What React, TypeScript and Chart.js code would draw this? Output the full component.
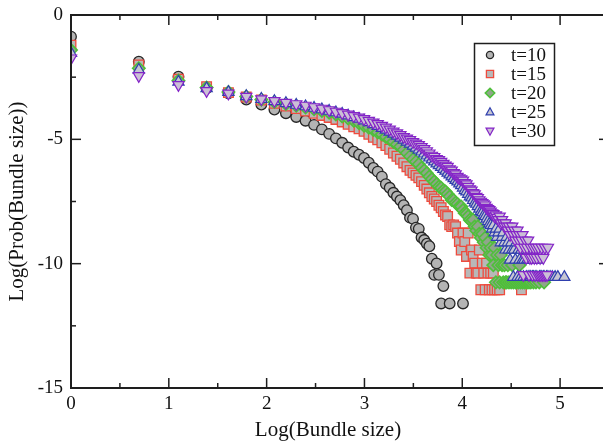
import React, { useEffect, useRef } from 'react';
import { Chart, registerables } from 'chart.js';

Chart.register(...registerables);

const FONT = '"Liberation Serif", "Times New Roman", serif';

const xTickValues = [0, 1, 2, 3, 4, 5];
const xMinorTicks = [0.5, 1.5, 2.5, 3.5, 4.5];
const yTickValues = [0, -5, -10, -15];
const yMinorTicks = [-2.5, -7.5, -12.5];
const seriesLabels = ['t=10', 't=15', 't=20', 't=25', 't=30'];
const xTitle = 'Log(Bundle size)';
const yTitle = 'Log(Prob(Bundle size))';

// Log(Prob(Bundle size)) for bundle sizes 1, 2, 3, ... (null = no bundle of that size)
const probT10 = [
  -0.87, -1.88, -2.48, -2.95, -3.15, -3.4, -3.6, -3.8, -3.95, -4.1,
  -4.25, -4.42, -4.6, -4.78, -4.96, -5.14, -5.33, -5.5, -5.62, -5.75,
  -5.94, -6.15, -6.3, -6.5, -6.8, -6.95, -7.15, -7.3, -7.45, -7.65,
  -7.85, -8.15, -8.2, -8.55, -8.6, -8.95, -9.05, -9.2, -9.3, -9.8,
  -10.45, -9.99, -10.45, -11.6, -10.9, null, null, -11.6, null, null,
  null, null, null, null, -11.6,
];

const probT15 = [
  -1.21, -2.01, -2.58, -2.88, -3.12, -3.3, -3.42, -3.55, -3.66, -3.76,
  -3.86, -3.95, -4.04, -4.12, -4.2, -4.3, -4.4, -4.5, -4.58, -4.68,
  -4.8, -4.92, -5.02, -5.14, -5.25, -5.4, -5.55, -5.68, -5.8, -5.95,
  -6.1, -6.25, -6.35, -6.45, -6.55, -6.7, -6.85, -7.0, -7.15, -7.3,
  -7.4, -7.5, -7.65, -7.75, -7.9, -8.04, -8.1, -8.44, -8.51, -8.44,
  -8.51, -8.77, -9.11, -9.45, -8.77, -9.11, -9.71, -8.77, -10.38, -9.45,
  -9.71, -9.98, -10.38, -10.38, -9.45, -11.05, -9.98, -10.38, -11.05, -9.98,
  -10.38, -11.05, -10.38, -11.05, -10.38, -11.05, null, -11.05, null, -11.05,
  null, null, null, null, null, null, null, null, null, null,
  null, null, null, null, null, null, null, null, null, -11.05,
];

const probT20 = [
  -1.41, -2.14, -2.64, -2.92, -3.1, -3.28, -3.4, -3.5, -3.58, -3.65,
  -3.72, -3.79, -3.86, -3.93, -4.0, -4.08, -4.16, -4.25, -4.35, -4.45,
  -4.53, -4.62, -4.72, -4.8, -4.9, -5.0, -5.1, -5.2, -5.29, -5.42,
  -5.55, -5.68, -5.8, -5.9, -6.0, -6.15, -6.25, -6.36, -6.5, -6.6,
  -6.7, -6.8, -6.9, -6.95, -7.05, -7.1, -7.2, -7.3, -7.44, -7.45,
  -7.55, -7.6, -7.7, -7.7, -7.85, -7.97, -8.0, -8.1, -8.24, -8.3,
  -8.24, -8.51, -8.67, -8.51, -8.8, -8.96, -8.8, -9.14, -8.96, -9.36,
  -9.14, -9.65, -9.36, -9.65, -10.06, -9.36, -10.75, -9.65, -10.06, -10.75,
  -9.65, -10.06, -10.75, -10.06, -10.75, -10.75, -10.06, -10.75, null, -10.75,
  -10.06, -10.75, null, -10.75, -10.75, null, -10.75, -10.06, -10.75, null,
  -10.75, null, -10.75, null, -10.75, -10.75, null, -10.75, null, -10.75,
  null, null, -10.75, null, null, -10.75, null, null, null, -10.75,
  null, null, null, null, null, -10.75,
];

const probT25 = [
  -1.53, -2.21, -2.69, -2.95, -3.1, -3.27, -3.38, -3.47, -3.55, -3.62,
  -3.68, -3.74, -3.8, -3.86, -3.92, -3.98, -4.05, -4.12, -4.18, -4.25,
  -4.32, -4.4, -4.47, -4.55, -4.62, -4.7, -4.78, -4.86, -4.94, -5.02,
  -5.1, -5.18, -5.26, -5.34, -5.42, -5.5, -5.58, -5.66, -5.74, -5.82,
  -5.9, -5.98, -6.05, -6.12, -6.2, -6.27, -6.35, -6.42, -6.5, -6.57,
  -6.64, -6.7, -6.78, -6.85, -6.95, -7.05, -7.1, -7.2, -7.3, -7.35,
  -7.45, -7.55, -7.6, -7.7, -7.8, -7.9, -7.95, -8.05, -8.1, -8.2,
  -8.3, -8.4, -8.46, -8.6, -8.46, -8.75, -8.6, -8.93, -8.75, -8.6,
  -9.15, -8.93, -8.75, -9.15, -9.44, -8.93, -9.15, -9.44, -9.85, -9.15,
  -9.44, -10.54, -9.44, -9.85, -9.15, -10.54, -9.44, -9.85, -10.54, -9.44,
  -9.85, -10.54, -9.85, -9.44, -10.54, -9.85, -10.54, -9.85, -10.54, -10.54,
  -9.85, -10.54, -10.54, -9.85, -10.54, null, -10.54, -9.85, null, -10.54,
  -10.54, null, -10.54, null, -10.54, -10.54, null, null, -10.54, null,
  -10.54, null, null, -10.54, null, null, -10.54, null, null, null,
  -10.54, null, null, null, -10.54, null, null, null, null, null,
  null, null, null, null, -10.54,
];

const probT30 = [
  -1.74, -2.45, -2.81, -3.05, -3.15, -3.28, -3.38, -3.45, -3.52, -3.58,
  -3.64, -3.7, -3.76, -3.82, -3.88, -3.94, -4.0, -4.06, -4.12, -4.18,
  -4.25, -4.32, -4.38, -4.45, -4.52, -4.6, -4.68, -4.75, -4.82, -4.9,
  -4.96, -5.02, -5.1, -5.16, -5.22, -5.3, -5.38, -5.47, -5.56, -5.65,
  -5.7, -5.78, -5.83, -5.9, -5.98, -6.05, -6.1, -6.2, -6.25, -6.35,
  -6.4, -6.5, -6.56, -6.6, -6.65, -6.75, -6.8, -6.9, -7.0, -7.05,
  -7.15, -7.2, -7.3, -7.35, -7.44, -7.5, -7.55, -7.6, -7.65, -7.75,
  -7.8, -7.84, -7.9, -7.97, -8.0, -8.1, -8.05, -8.15, -8.24, -8.1,
  -8.37, -8.24, -8.37, -8.5, -8.37, -8.5, -8.66, -8.5, -8.84, -8.66,
  -8.5, -8.84, -8.66, -9.06, -8.84, -8.66, -9.06, -8.84, -9.35, -9.06,
  -8.84, -10.45, -9.35, -9.06, -9.76, -9.35, -9.06, -10.45, -9.76, -9.35,
  -9.76, -10.45, -9.35, -9.76, -10.45, -9.35, -9.76, -10.45, -9.35, -10.45,
  -9.76, -10.45, -9.35, -10.45, -9.76, -10.45, -9.35, -10.45, null, -10.45,
  -9.35,
];

const seriesValues = [probT10, probT15, probT20, probT25, probT30];

const markerStyles = [
  { shape: 'circle', radius: 5.3, bg: '#b4b4b4', border: '#262626', width: 1.3, rotation: 0 },
  { shape: 'rect', radius: 6.8, bg: '#b8b8b8', border: '#ee4b3e', width: 1.3, rotation: 0 },
  { shape: 'rectRot', radius: 6.2, bg: '#8fa68a', border: '#4fbf3a', width: 1.6, rotation: 0 },
  { shape: 'triangle', radius: 6.5, bg: '#c6c6d2', border: '#2f3fae', width: 1.2, rotation: 0 },
  { shape: 'triangle', radius: 6.5, bg: '#cbbfd6', border: '#8424c8', width: 1.2, rotation: 180 },
];

// plot frame in page pixels (right edge lies just past the visible page)
const frame = { left: 71, right: 609, top: 15, bottom: 388 };

function toPoints(values: (number | null)[]) {
  const pts: { x: number; y: number }[] = [];
  values.forEach((v, i) => {
    if (v !== null) pts.push({ x: Math.log(i + 1), y: v });
  });
  return pts;
}

function drawMarker(ctx: CanvasRenderingContext2D, st: any, x: number, y: number, r: number) {
  ctx.save();
  ctx.fillStyle = st.bg;
  ctx.strokeStyle = st.border;
  ctx.lineWidth = st.width;
  ctx.beginPath();
  if (st.shape === 'circle') {
    ctx.arc(x, y, r, 0, Math.PI * 2);
  } else if (st.shape === 'rect') {
    ctx.rect(x - r, y - r, 2 * r, 2 * r);
  } else if (st.shape === 'rectRot') {
    ctx.moveTo(x, y - r * 1.3);
    ctx.lineTo(x + r * 1.3, y);
    ctx.lineTo(x, y + r * 1.3);
    ctx.lineTo(x - r * 1.3, y);
    ctx.closePath();
  } else {
    const s = st.rotation === 180 ? -1 : 1;
    ctx.moveTo(x, y - s * r * 1.2);
    ctx.lineTo(x + r * 1.1, y + s * r * 0.8);
    ctx.lineTo(x - r * 1.1, y + s * r * 0.8);
    ctx.closePath();
  }
  ctx.fill();
  ctx.stroke();
  ctx.restore();
}

const framePlugin = {
  id: 'frameTicksLegend',
  afterLayout(chart: any) {
    const ca = chart.chartArea;
    ca.left = frame.left;
    ca.right = frame.right;
    ca.top = frame.top;
    ca.bottom = frame.bottom;
    ca.width = frame.right - frame.left;
    ca.height = frame.bottom - frame.top;
    const xs = chart.scales.x;
    const ys = chart.scales.y;
    xs.left = frame.left;
    xs.right = frame.right;
    xs.width = frame.right - frame.left;
    xs.top = frame.bottom;
    xs.bottom = chart.height;
    xs.height = chart.height - frame.bottom;
    ys.left = 0;
    ys.right = frame.left;
    ys.width = frame.left;
    ys.top = frame.top;
    ys.bottom = frame.bottom;
    ys.height = frame.bottom - frame.top;
    xs.configure();
    ys.configure();
  },
  afterDraw(chart: any) {
    const { ctx, chartArea: a, scales } = chart;
    const xs = scales.x;
    const ys = scales.y;
    ctx.save();
    ctx.strokeStyle = '#1e1e1e';
    ctx.lineWidth = 1.5;
    const line = (x1: number, y1: number, x2: number, y2: number) => {
      ctx.beginPath();
      ctx.moveTo(x1, y1);
      ctx.lineTo(x2, y2);
      ctx.stroke();
    };
    xTickValues.forEach((v) => {
      const px = xs.getPixelForValue(v);
      line(px, a.bottom, px, a.bottom - 10);
      line(px, a.top, px, a.top + 10);
    });
    xMinorTicks.forEach((v) => {
      const px = xs.getPixelForValue(v);
      line(px, a.bottom, px, a.bottom - 5);
      line(px, a.top, px, a.top + 5);
    });
    yTickValues.forEach((v) => {
      const py = ys.getPixelForValue(v);
      line(a.left, py, a.left + 10, py);
      line(a.right, py, a.right - 10, py);
    });
    yMinorTicks.forEach((v) => {
      const py = ys.getPixelForValue(v);
      line(a.left, py, a.left + 5, py);
      line(a.right, py, a.right - 5, py);
    });
    ctx.lineWidth = 2;
    ctx.strokeRect(a.left, a.top, a.right - a.left, a.bottom - a.top);

    // x axis title
    ctx.fillStyle = '#111';
    ctx.font = `21px ${FONT}`;
    ctx.textAlign = 'center';
    ctx.textBaseline = 'middle';
    ctx.fillText(xTitle, 328, 430);

    // legend
    ctx.fillStyle = '#ffffff';
    ctx.fillRect(474.5, 43.5, 80, 102);
    ctx.lineWidth = 1.5;
    ctx.strokeStyle = '#1e1e1e';
    ctx.strokeRect(474.5, 43.5, 80, 102);
    ctx.font = `19px ${FONT}`;
    ctx.textAlign = 'left';
    ctx.textBaseline = 'middle';
    seriesLabels.forEach((lab, i) => {
      const cy = 55 + i * 19;
      drawMarker(ctx, markerStyles[i], 490, cy, 3.6);
      ctx.fillStyle = '#111';
      ctx.fillText(lab, 511, cy + 1);
    });
    ctx.restore();
  },
};

export default function App() {
  const ref = useRef<HTMLCanvasElement | null>(null);
  useEffect(() => {
    if (!ref.current) return;
    const datasets = seriesValues.map((vals, i) => {
      const st = markerStyles[i];
      return {
        label: seriesLabels[i],
        data: toPoints(vals),
        showLine: false,
        pointStyle: st.shape,
        pointRadius: st.radius,
        pointRotation: st.rotation,
        pointBackgroundColor: st.bg,
        pointBorderColor: st.border,
        pointBorderWidth: st.width,
        backgroundColor: st.bg,
        borderColor: st.border,
        order: 5 - i,
      };
    });
    const chart = new Chart(ref.current, {
      type: 'scatter',
      data: { datasets } as any,
      options: {
        responsive: false,
        animation: false,
        events: [],
        layout: { padding: 0 },
        plugins: { legend: { display: false }, tooltip: { enabled: false } },
        scales: {
          x: {
            type: 'linear',
            min: 0,
            max: 5.5,
            afterBuildTicks: (s: any) => {
              s.ticks = xTickValues.map((v) => ({ value: v }));
            },
            grid: { display: false, drawTicks: false },
            border: { display: false },
            ticks: {
              font: { size: 19, family: FONT },
              color: '#111',
              padding: 5,
              maxRotation: 0,
              callback: (v: any) => String(v),
            },
            title: { display: false },
          },
          y: {
            type: 'linear',
            min: -15,
            max: 0,
            afterBuildTicks: (s: any) => {
              s.ticks = yTickValues.map((v) => ({ value: v }));
            },
            grid: { display: false, drawTicks: false },
            border: { display: false },
            ticks: {
              font: { size: 19, family: FONT },
              color: '#111',
              padding: 8,
              callback: (v: any) => String(v),
            },
            title: {
              display: true,
              text: yTitle,
              font: { size: 21, family: FONT },
              color: '#111',
              padding: { top: 5, bottom: 0 },
            },
          },
        },
      } as any,
      plugins: [framePlugin],
    });
    return () => chart.destroy();
  }, []);
  return (
    <div style={{ position: 'fixed', left: 0, top: 0, width: 603, height: 443, background: '#fff' }}>
      <canvas ref={ref} width={603} height={443} style={{ display: 'block' }} />
    </div>
  );
}
